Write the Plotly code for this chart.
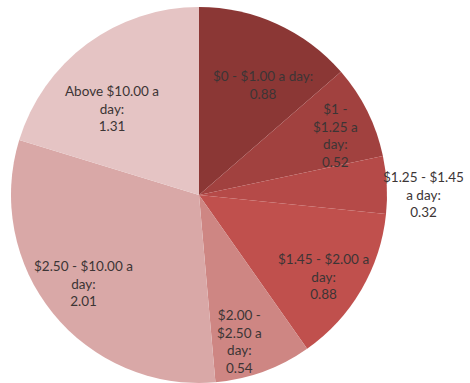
import plotly.graph_objects as go

# Daily income bands and their values
categories = [
    "$0 - $1.00 a day",
    "$1 - $1.25 a day",
    "$1.25 - $1.45 a day",
    "$1.45 - $2.00 a day",
    "$2.00 - $2.50 a day",
    "$2.50 - $10.00 a day",
    "Above $10.00 a day",
]
values = [0.88, 0.52, 0.32, 0.88, 0.54, 2.01, 1.31]

# How each label wraps inside its slice
label_lines = [
    ["$0 - $1.00 a day:"],
    ["$1 -", "$1.25 a", "day:"],
    ["$1.25 - $1.45", "a day:"],
    ["$1.45 - $2.00 a", "day:"],
    ["$2.00 -", "$2.50 a", "day:"],
    ["$2.50 - $10.00 a", "day:"],
    ["Above $10.00 a", "day:"],
]

colors = ["#8B3735", "#A1413F", "#B54A48", "#C0504D", "#CE8683", "#D9A8A7", "#E5C4C4"]

W, H = 470, 383
# label centres in pixels (x from left, y from top)
label_pos = [(263, 85), (335, 135), (423, 194), (323, 276), (239, 341), (83, 283), (112, 109)]

fig = go.Figure(go.Pie(
    labels=categories,
    values=values,
    sort=False,
    direction="clockwise",
    rotation=0,
    marker=dict(colors=colors, line=dict(width=0)),
    textinfo="none",
    hoverinfo="label+value",
    domain=dict(x=[11 / W, 387 / W], y=[0.0, 0.982]),
    showlegend=False,
))

for lines, v, (px, py) in zip(label_lines, values, label_pos):
    txt = "<br>".join(lines + [f"{v:.2f}"])
    fig.add_annotation(
        x=px / W, y=1 - py / H, xref="paper", yref="paper",
        text=txt, showarrow=False, align="center",
        xanchor="center", yanchor="middle",
        font=dict(family="Lato", size=13.5, color="#3C3535"),
    )

fig.update_layout(
    width=W, height=H,
    margin=dict(l=0, r=0, t=0, b=0),
    paper_bgcolor="white",
    plot_bgcolor="white",
)

fig.write_html("out.html")
